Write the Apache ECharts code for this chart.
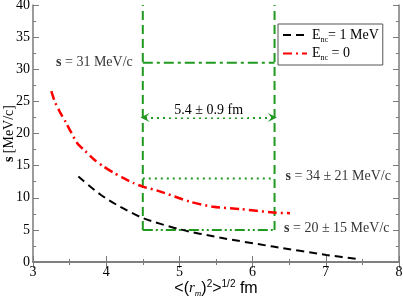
<!DOCTYPE html>
<html><head><meta charset="utf-8">
<script src="https://cdn.jsdelivr.net/npm/echarts@6/dist/echarts.min.js"></script>
<style>html,body{margin:0;padding:0;background:#fff}#c{width:403px;height:301px}</style>
</head><body><div id="c"></div>
<script>
// data
const rBlack = [3.62, 3.92, 4.19, 4.51, 5.00, 5.55, 6.28, 7.01, 7.47];
const sBlack = [13.3, 10.5, 8.6, 6.8, 5.1, 3.8, 2.4, 1.1, 0.4];
const rRed = [3.25, 3.30, 3.37, 3.45, 3.52, 3.61, 3.71, 3.83, 3.96, 4.10, 4.23, 4.37, 4.51, 4.73, 5.14, 5.46, 5.83, 6.28, 6.51];
const sRed = [26.6, 24.9, 23.3, 21.7, 20.2, 18.4, 17.3, 16.0, 14.9, 13.9, 13.1, 12.3, 11.7, 11.0, 9.4, 8.6, 8.25, 7.7, 7.6];
const bandR = [4.5, 6.3];
const bandTopS = 40, sTop = 31, sMid = 13, sLow = 5, arrowS = 22.5;
const xTicks = [3, 4, 5, 6, 7, 8];
const yTicks = [0, 5, 10, 15, 20, 25, 30, 35, 40];

const green = '#1f9a1f';
const serif = 'Liberation Serif';
const sans = 'Liberation Sans';
const zip = (a, b) => a.map((v, i) => [v, b[i]]);
const axisCol = '#7a7a7a';

const chart = echarts.init(document.getElementById('c'));
const baseAxis = {
  axisLine: {lineStyle: {color: axisCol, width: 1.5}},
  axisTick: {inside: true, length: 6, lineStyle: {color: axisCol, width: 1}},
  minorTick: {show: true, splitNumber: 2, length: 3, lineStyle: {color: axisCol, width: 1}},
  splitLine: {show: false}
};
const gl = (data, type, width) => ({
  type: 'line', data, symbol: 'none', silent: true, z: 3,
  lineStyle: {color: green, width: width || 2, type}
});
const chev = 'path://M5,0 L10,10 L5,6 L0,10 Z';
chart.setOption({
  animation: false,
  grid: {left: 33, right: 4, top: 5, bottom: 39, containLabel: false, outerBoundsMode: 'none'},
  legend: {
    left: 278, top: 24, orient: 'vertical', backgroundColor: '#fff',
    borderColor: '#555', borderWidth: 1, borderRadius: 0, padding: [4, 4, 3, 4],
    itemGap: 3, itemWidth: 24, itemHeight: 12,
    itemStyle: {opacity: 0, borderWidth: 0},
    data: ['E1', 'E0'],
    formatter: n => n === 'E1' ? '{a|E}{b|nc}{a|= 1 MeV}' : '{a|E}{b|nc}{a| = 0}',
    textStyle: {
      fontFamily: serif, fontSize: 14, color: '#000',
      rich: {
        a: {fontFamily: serif, fontSize: 14, color: '#000'},
        b: {fontFamily: serif, fontSize: 8, color: '#000', verticalAlign: 'bottom', padding: [9, 0, 0, 0]}
      }
    }
  },
  xAxis: [
    Object.assign({}, baseAxis, {
      type: 'value', min: 3, max: 8, interval: 1,
      axisLabel: {fontFamily: serif, fontSize: 14, color: '#000', margin: 3,
        formatter: v => xTicks.includes(v) ? String(v) : ''},
      name: '{a|<(}{i|r}{s|m}{a|)}{p|2}{a|>}{p|1/2}{a| fm}', nameLocation: 'middle', nameGap: 17,
      nameMoveOverlap: false,
      nameTextStyle: {
        rich: {
          a: {fontFamily: sans, fontSize: 16, color: '#000'},
          i: {fontFamily: serif, fontStyle: 'italic', fontSize: 15, color: '#000'},
          s: {fontFamily: serif, fontStyle: 'italic', fontSize: 9, color: '#000', verticalAlign: 'bottom', padding: [9, 0, 0, 0]},
          p: {fontFamily: sans, fontSize: 10, color: '#000', verticalAlign: 'top', padding: [0, 0, 9, 0]}
        }
      }
    }),
    Object.assign({}, baseAxis, {
      type: 'value', min: 3, max: 8, interval: 1, position: 'top', axisLabel: {show: false}
    })
  ],
  yAxis: [
    Object.assign({}, baseAxis, {
      type: 'value', min: 0, max: 40, interval: 5,
      axisLabel: {fontFamily: serif, fontSize: 14, color: '#000', margin: 3,
        formatter: v => yTicks.includes(v) ? String(v) : ''},
      name: '{b|s} {a|[MeV/c]}', nameLocation: 'middle', nameGap: 17, nameRotate: 90,
      nameMoveOverlap: false,
      nameTextStyle: {
        rich: {
          a: {fontFamily: serif, fontSize: 14, color: '#000'},
          b: {fontFamily: serif, fontSize: 14, fontWeight: 'bold', color: '#000'}
        }
      }
    }),
    Object.assign({}, baseAxis, {
      type: 'value', min: 0, max: 40, interval: 5, position: 'right', axisLabel: {show: false}
    })
  ],
  series: [
    gl([[bandR[0], sLow], [bandR[0], bandTopS]], [9, 5]),
    gl([[bandR[1], sLow], [bandR[1], bandTopS]], [9, 5]),
    gl([[bandR[0], sTop], [bandR[1], sTop]], [10, 4, 3, 4]),
    gl([[bandR[0], sMid], [bandR[1], sMid]], [2, 4]),
    gl([[bandR[0], sLow], [bandR[1], sLow]], [10, 3, 2, 3, 2, 3]),
    {
      type: 'line', data: [], symbol: 'none', silent: true,
      markLine: {
        silent: true,
        symbol: [chev, chev],
        symbolSize: [9, 9],
        lineStyle: {color: green, width: 2, type: [2, 4]},
        label: {show: true, position: 'middle', formatter: '5.4 ± 0.9 fm',
          fontFamily: serif, fontSize: 14, color: '#000', backgroundColor: '#fff',
          padding: [0, 5], distance: 0},
        data: [[{coord: [bandR[0] + 0.03, arrowS]}, {coord: [bandR[1] - 0.03, arrowS]}]]
      }
    },
    {
      name: 'E1', type: 'line', data: zip(rBlack, sBlack), symbol: 'none', smooth: 0.25, z: 4,
      itemStyle: {color: '#000'},
      lineStyle: {color: '#000', width: 2, type: [8, 5]}
    },
    {
      name: 'E0', type: 'line', data: zip(rRed, sRed), symbol: 'none', smooth: 0.25, z: 4,
      itemStyle: {color: '#ff0000'},
      lineStyle: {color: '#ff0000', width: 2.5, type: [9, 4, 2, 4]}
    },
    {
      type: 'scatter', symbolSize: 0, silent: true, z: 5,
      data: [
        {value: [bandR[0], sTop], label: {position: 'left', distance: 10, formatter: '{b|s} = 31 MeV/c'}},
        {value: [6.45, sMid + 0.3], label: {position: 'right', distance: 0, formatter: '{b|s} = 34 ± 21 MeV/c'}},
        {value: [6.43, sLow + 0.3], label: {position: 'right', distance: 0, formatter: '{b|s} = 20 ± 15 MeV/c'}}
      ],
      label: {show: true, fontFamily: serif, fontSize: 14, color: '#000',
        rich: {b: {fontFamily: serif, fontSize: 14, fontWeight: 'bold', color: '#000'}}}
    }
  ]
});
</script></body></html>
